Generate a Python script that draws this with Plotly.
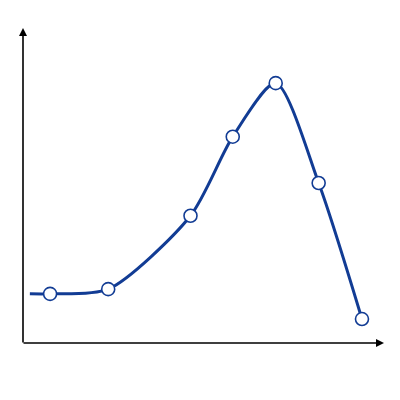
import plotly.graph_objects as go

# curve values (x and y in 0..100 units), first point is the bare line start
curve_x = [1.9, 7.5, 23.6, 46.4, 58.1, 70.0, 81.9, 93.9]
curve_y = [15.6, 15.6, 17.1, 40.4, 65.5, 82.5, 50.8, 7.6]

line_color = "#123c94"

fig = go.Figure()

fig.add_trace(go.Scatter(
    x=curve_x, y=curve_y,
    mode="lines",
    line=dict(color=line_color, width=3, shape="spline", smoothing=0.75),
    hoverinfo="skip",
))

fig.add_trace(go.Scatter(
    x=curve_x[1:], y=curve_y[1:],
    mode="markers",
    marker=dict(size=13, color="white", line=dict(color=line_color, width=1.6)),
))

# axis arrows
fig.add_annotation(x=1, y=0, xref="paper", yref="paper", ax=-362, ay=0,
                   showarrow=True, arrowhead=2, arrowsize=1, arrowwidth=1.6,
                   arrowcolor="black", text="")
fig.add_annotation(x=0, y=1, xref="paper", yref="paper", ax=0, ay=316,
                   showarrow=True, arrowhead=2, arrowsize=1, arrowwidth=1.6,
                   arrowcolor="black", text="")

fig.update_xaxes(range=[0, 100], visible=False)
fig.update_yaxes(range=[0, 100], visible=False)

# page body adds 8px, so margins are shifted to keep the plot area in place
fig.update_layout(
    width=400, height=400,
    margin=dict(l=15, r=24, t=20, b=65),
    showlegend=False,
    plot_bgcolor="white",
    paper_bgcolor="white",
)

fig.write_html("out.html")
